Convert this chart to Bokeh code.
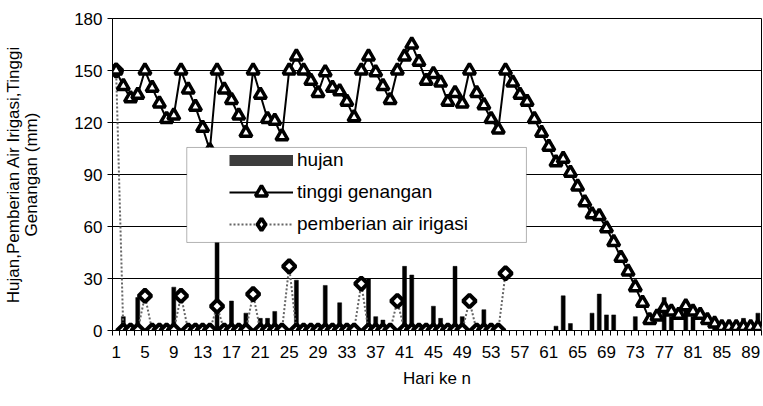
from bokeh.plotting import figure
from bokeh.models import Range1d, FixedTicker, Legend, LegendItem, BoxAnnotation
from bokeh.embed import file_html
from bokeh.resources import INLINE
import numpy as np

# ---- data ----
days = list(range(1, 91))

tinggi_genangan = [
    150, 141, 134, 136, 150, 140, 131, 122, 124, 150,
    139, 129, 117, 104, 150, 139, 133, 124, 114, 150,
    136, 122, 121, 112, 150, 158, 150, 144, 137, 149,
    140, 138, 132, 123, 150, 158, 149, 141, 133, 150,
    158, 165, 155, 144, 148, 143, 132, 137, 131, 150,
    137, 130, 122, 116, 150, 143, 136, 132, 122, 114,
    106, 97, 99, 91, 83, 74, 67, 66, 59, 51,
    42, 34, 25, 16, 6, 8, 13, 11, 9, 14,
    11, 9, 6, 4, 2, 2, 2, 2, 2, 2,
]

irigasi_days = list(range(1, 56))
pemberian_air = [
    150, 0, 0, 0, 20, 0, 0, 0, 0, 20,
    0, 0, 0, 0, 14, 0, 0, 0, 0, 21,
    0, 0, 0, 0, 37, 0, 0, 0, 0, 0,
    0, 0, 0, 0, 27, 0, 0, 0, 0, 17,
    0, 0, 0, 0, 0, 0, 0, 0, 0, 17,
    0, 0, 0, 0, 33,
]

hujan = [
    0, 8, 0, 19, 0, 0, 0, 0, 25, 0,
    0, 0, 0, 0, 53, 0, 17, 0, 10, 0,
    7, 7, 11, 0, 0, 29, 0, 0, 0, 26,
    0, 16, 0, 0, 0, 30, 8, 6, 0, 0,
    37, 32, 0, 0, 14, 7, 0, 37, 8, 0,
    0, 12, 4, 0, 0, 0, 0, 0, 0, 0,
    0, 2.5, 20, 4, 0, 0, 10, 21, 9, 9,
    0, 0, 8, 0, 0, 0, 19, 8, 0, 14,
    8, 0, 0, 4, 4, 4, 4, 7, 4, 10,
]

x_tick_days = list(range(1, 90, 4))
x_minor = [d - 0.5 for d in days] + [days[-1] + 0.5]
y_ticks = [0, 30, 60, 90, 120, 150, 180]

FONT = "Liberation Sans"

p = figure(width=762, height=398,
           x_range=Range1d(0.5, 90.5), y_range=Range1d(0, 180),
           output_backend="svg", toolbar_location=None,
           min_border_left=112, min_border_right=1,
           min_border_top=18, min_border_bottom=68)
p.background_fill_color = "white"
p.border_fill_color = "white"
p.outline_line_color = "black"
p.outline_line_width = 1

# grid
p.xgrid.grid_line_color = None
p.ygrid.ticker = FixedTicker(ticks=y_ticks)
p.ygrid.grid_line_color = "black"
p.ygrid.grid_line_width = 1

# x axis
xa = p.xaxis[0]
xa.ticker = FixedTicker(ticks=x_tick_days, minor_ticks=x_minor)
xa.major_tick_in = 0
xa.major_tick_out = 0
xa.minor_tick_in = 0
xa.minor_tick_out = 5
xa.minor_tick_line_color = "black"
xa.axis_line_color = "black"
xa.major_label_text_font = FONT
xa.major_label_text_font_size = "17px"
xa.major_label_text_color = "black"
xa.major_label_standoff = 10
xa.axis_label = "Hari ke n"
xa.axis_label_text_font = FONT
xa.axis_label_text_font_size = "17px"
xa.axis_label_text_font_style = "normal"
xa.axis_label_text_color = "black"
xa.axis_label_standoff = 8

# y axis
ya = p.yaxis[0]
ya.ticker = FixedTicker(ticks=y_ticks)
ya.major_tick_in = 0
ya.major_tick_out = 5
ya.minor_tick_out = 0
ya.minor_tick_in = 0
ya.major_tick_line_color = "black"
ya.axis_line_color = "black"
ya.major_label_text_font = FONT
ya.major_label_text_font_size = "17px"
ya.major_label_text_color = "black"
ya.major_label_standoff = 5
ya.axis_label = "Hujan,Pemberian Air Irigasi,Tinggi\nGenangan (mm)"
ya.axis_label_text_font = FONT
ya.axis_label_text_font_size = "17px"
ya.axis_label_text_font_style = "normal"
ya.axis_label_text_color = "black"
ya.axis_label_text_line_height = 0.95
ya.axis_label_standoff = 30

# series
bars = p.vbar(x=days, top=hujan, width=0.55, fill_color="black", line_color="black", line_width=0.5)

line_i = p.line(irigasi_days, pemberian_air, line_color="#666666", line_width=2, line_dash="2 2")
sc_i = p.scatter(irigasi_days, pemberian_air, marker="square", angle=np.pi / 4, size=9,
                 fill_color="white", line_color="black", line_width=4)

line_t = p.line(days, tinggi_genangan, line_color="black", line_width=2)
sc_t = p.scatter(days, tinggi_genangan, marker="triangle", size=12,
                 fill_color="white", line_color="black", line_width=3.5)

# legend proxies (draw nothing in the plot area)
hujan_swatch = p.line(x=[np.nan], y=[np.nan], line_color="#3c3c3c", line_width=11, line_cap="butt")
diamond_swatch = p.scatter(x=[np.nan], y=[np.nan], marker="diamond", size=15,
                           fill_color="white", line_color="black", line_width=4)

# legend frame (white box with black border)
box = BoxAnnotation(left=10.8, right=57.9, bottom=50.8, top=105.6,
                    fill_color="white", fill_alpha=1.0, line_color="black", line_width=1)
p.add_layout(box)

legend = Legend(items=[
    LegendItem(label="hujan", renderers=[hujan_swatch]),
    LegendItem(label="tinggi genangan", renderers=[line_t, sc_t]),
    LegendItem(label="pemberian air irigasi", renderers=[line_i, diamond_swatch]),
], location=(117, 91), orientation="vertical", padding=0, margin=0, spacing=2,
    glyph_width=64, glyph_height=30, label_height=20, label_standoff=4,
    border_line_color=None, background_fill_alpha=0,
    label_text_font=FONT, label_text_font_size="19px", label_text_color="black")
p.add_layout(legend)

open("out.html", "w").write(file_html(p, INLINE))
